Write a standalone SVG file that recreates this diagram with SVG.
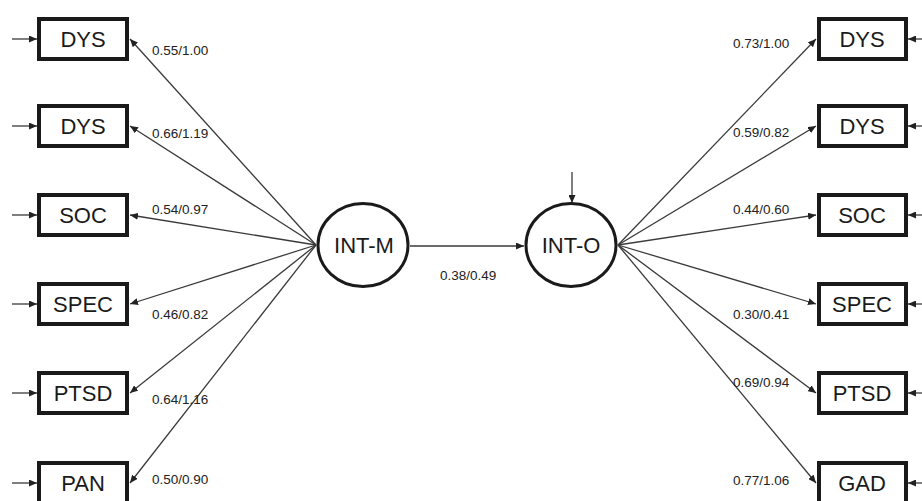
<svg xmlns="http://www.w3.org/2000/svg" width="922" height="501" viewBox="0 0 922 501">
<style>
.box{fill:#fff;stroke:#1a1a1a;stroke-width:4}
.lat{fill:#fff;stroke:#1a1a1a;stroke-width:3}
.nt{font-family:"Liberation Sans",Arial,sans-serif;font-size:22px;fill:#1a1a1a;text-anchor:middle}
.lb{font-family:"Liberation Sans",Arial,sans-serif;font-size:13.5px;fill:#222}
.cn line{stroke:#3a3a3a;stroke-width:1.3;marker-end:url(#ah)}
</style>
<defs>
<marker id="ah" markerUnits="userSpaceOnUse" markerWidth="8" markerHeight="7" refX="8" refY="3.5" orient="auto">
<path d="M0,0 L8,3.5 L0,7 z" fill="#222"/>
</marker>
</defs>
<rect width="922" height="501" fill="#fff"/>
<g class="cn" id="connectors">
<line x1="12" y1="39" x2="37" y2="39"/>
<line x1="12" y1="126" x2="37" y2="126"/>
<line x1="12" y1="215" x2="37" y2="215"/>
<line x1="12" y1="304" x2="37" y2="304"/>
<line x1="12" y1="393" x2="37" y2="393"/>
<line x1="12" y1="483" x2="37" y2="483"/>
<line x1="922" y1="39" x2="908" y2="39"/>
<line x1="922" y1="126" x2="908" y2="126"/>
<line x1="922" y1="215" x2="908" y2="215"/>
<line x1="922" y1="304" x2="908" y2="304"/>
<line x1="922" y1="393" x2="908" y2="393"/>
<line x1="922" y1="483" x2="908" y2="483"/>
<line x1="316" y1="245" x2="130" y2="39"/>
<line x1="316" y1="245" x2="130" y2="126"/>
<line x1="316" y1="245" x2="130" y2="215"/>
<line x1="316" y1="245" x2="130" y2="304"/>
<line x1="316" y1="245" x2="130" y2="393"/>
<line x1="316" y1="245" x2="130" y2="483"/>
<line x1="618" y1="245" x2="816" y2="39"/>
<line x1="618" y1="245" x2="816" y2="126"/>
<line x1="618" y1="245" x2="816" y2="215"/>
<line x1="618" y1="245" x2="816" y2="304"/>
<line x1="618" y1="245" x2="816" y2="393"/>
<line x1="618" y1="245" x2="816" y2="483"/>
<line x1="410" y1="246" x2="524" y2="246"/>
<line x1="572" y1="172" x2="572" y2="203"/>
</g>
<g id="labels" class="lb">
<text x="152" y="55">0.55/1.00</text>
<text x="152" y="138">0.66/1.19</text>
<text x="152" y="214">0.54/0.97</text>
<text x="152" y="319">0.46/0.82</text>
<text x="152" y="404">0.64/1.16</text>
<text x="152" y="484">0.50/0.90</text>
<text x="733" y="48">0.73/1.00</text>
<text x="733" y="137">0.59/0.82</text>
<text x="733" y="214">0.44/0.60</text>
<text x="733" y="319">0.30/0.41</text>
<text x="733" y="387">0.69/0.94</text>
<text x="733" y="485">0.77/1.06</text>
<text x="440" y="280">0.38/0.49</text>
</g>
<g id="m-dys1"><rect class="box" x="39" y="19" width="88" height="40"/><text class="nt" x="83" y="47">DYS</text></g>
<g id="m-dys2"><rect class="box" x="39" y="106" width="88" height="40"/><text class="nt" x="83" y="134">DYS</text></g>
<g id="m-soc"><rect class="box" x="39" y="195" width="88" height="40"/><text class="nt" x="83" y="223">SOC</text></g>
<g id="m-spec"><rect class="box" x="39" y="284" width="88" height="40"/><text class="nt" x="83" y="312">SPEC</text></g>
<g id="m-ptsd"><rect class="box" x="39" y="373" width="88" height="40"/><text class="nt" x="83" y="401">PTSD</text></g>
<g id="m-pan"><rect class="box" x="39" y="463" width="88" height="40"/><text class="nt" x="83" y="491">PAN</text></g>
<g id="o-dys1"><rect class="box" x="819" y="19" width="87" height="40"/><text class="nt" x="862" y="47">DYS</text></g>
<g id="o-dys2"><rect class="box" x="819" y="106" width="87" height="40"/><text class="nt" x="862" y="134">DYS</text></g>
<g id="o-soc"><rect class="box" x="819" y="195" width="87" height="40"/><text class="nt" x="862" y="223">SOC</text></g>
<g id="o-spec"><rect class="box" x="819" y="284" width="87" height="40"/><text class="nt" x="862" y="312">SPEC</text></g>
<g id="o-ptsd"><rect class="box" x="819" y="373" width="87" height="40"/><text class="nt" x="862" y="401">PTSD</text></g>
<g id="o-gad"><rect class="box" x="819" y="463" width="87" height="40"/><text class="nt" x="862" y="491">GAD</text></g>
<g id="int-m"><ellipse class="lat" cx="363" cy="245" rx="45" ry="41.5"/><text class="nt" x="364" y="253">INT-M</text></g>
<g id="int-o"><ellipse class="lat" cx="571" cy="245" rx="45" ry="41.5"/><text class="nt" x="571" y="253">INT-O</text></g>
</svg>
